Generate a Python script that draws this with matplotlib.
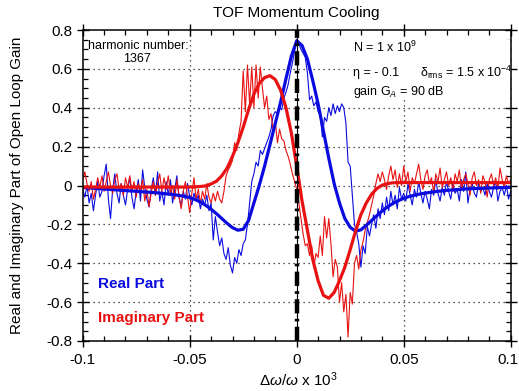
import numpy as np
import matplotlib
matplotlib.use("Agg")
import matplotlib.pyplot as plt
from matplotlib.ticker import MultipleLocator
from matplotlib.patches import Rectangle
from matplotlib.transforms import ScaledTranslation

plt.rcParams['font.family'] = ['Liberation Sans', 'DejaVu Sans']
plt.rcParams['mathtext.fontset'] = 'custom'
plt.rcParams['mathtext.rm'] = 'Liberation Sans'
plt.rcParams['mathtext.it'] = 'Liberation Sans:italic'
plt.rcParams['mathtext.bf'] = 'Liberation Sans:bold'

# ---- measured open loop gain (network analyser sweep) ----
x_meas = np.linspace(-0.1, 0.1, 201)

real_meas = [
    -0.02, -0.06, 0.00, -0.09, -0.04, -0.13, -0.05, 0.02, -0.06, -0.03,
    0.05, 0.11, -0.07, -0.17, -0.02, 0.06, -0.04, -0.09, 0.01, -0.05,
    -0.10, -0.02, 0.04, -0.06, -0.12, -0.03, 0.03, -0.08, 0.08, -0.01,
    -0.07, -0.11, -0.02, 0.04, -0.05, 0.07, -0.08, -0.03, -0.10, 0.02,
    -0.05, 0.03, -0.09, -0.02, 0.05, -0.06, -0.11, -0.03, -0.07, 0.01,
    -0.06, -0.10, -0.04, -0.08, -0.05, -0.12, -0.07, -0.10, -0.05, -0.13,
    -0.09, -0.28, -0.16, -0.24, -0.31, -0.27, -0.35, -0.38, -0.32, -0.41,
    -0.45, -0.37, -0.40, -0.33, -0.36, -0.30, -0.28, -0.20, -0.09, 0.02,
    0.06, 0.12, 0.10, 0.18, 0.16, 0.19, 0.22, 0.25, 0.29, 0.36,
    0.38, 0.37, 0.40, 0.39, 0.45, 0.48, 0.52, 0.58, 0.63, 0.69,
    0.75, 0.73, 0.70, 0.68, 0.66, 0.58, 0.44, 0.46, 0.41, 0.43,
    0.38, 0.36, 0.25, 0.35, 0.33, 0.40, 0.36, 0.42, 0.37, 0.41,
    0.38, 0.42, 0.40, 0.32, 0.12, 0.10, -0.05, -0.20, -0.24, -0.30,
    -0.42, -0.31, -0.35, -0.21, -0.26, -0.20, -0.15, -0.22, -0.12, -0.17,
    -0.09, -0.15, -0.06, -0.13, -0.03, -0.10, -0.05, -0.12, -0.01, -0.07,
    -0.04, -0.08, 0.01, -0.05, -0.10, -0.02, -0.06, 0.02, -0.04, -0.09,
    -0.03, -0.07, -0.12, -0.02, -0.05, 0.03, -0.04, -0.08, -0.01, -0.05,
    0.02, -0.03, -0.07, 0.01, -0.04, -0.02, -0.08, 0.03, -0.03, 0.07,
    -0.09, -0.02, 0.01, -0.04, -0.06, 0.02, -0.03, -0.01, -0.05, 0.01,
    -0.03, -0.06, -0.01, 0.02, -0.08, -0.03, -0.01, -0.05, 0.00, -0.07, -0.03,
]

imag_meas = [
    0.03, 0.07, 0.01, -0.03, 0.02, -0.07, -0.02, 0.04, -0.01, 0.05,
    -0.03, 0.02, 0.07, 0.00, -0.04, 0.03, 0.06, -0.02, 0.01, -0.05,
    0.04, -0.01, 0.05, -0.03, 0.02, -0.06, 0.01, -0.03, 0.03, -0.08,
    -0.02, -0.11, -0.04, 0.02, -0.05, 0.01, 0.06, -0.03, 0.04, -0.02,
    0.05, -0.04, 0.00, -0.07, 0.03, -0.05, -0.12, -0.03, 0.02, -0.06,
    -0.14, -0.04, 0.04, -0.07, -0.02, -0.09, -0.03, -0.07, 0.01, -0.06,
    -0.09, -0.04, -0.08, -0.03, -0.07, -0.09, -0.03, 0.05, 0.08, 0.10,
    0.13, 0.22, 0.18, 0.27, 0.33, 0.59, 0.38, 0.62, 0.42, 0.61,
    0.40, 0.62, 0.45, 0.61, 0.50, 0.40, 0.46, 0.34, 0.37, 0.28,
    0.33, 0.22, 0.29, 0.24, 0.23, 0.18, 0.15, 0.11, 0.06, 0.02,
    -0.02, -0.09, -0.17, -0.25, -0.31, -0.30, -0.36, -0.31, -0.42, -0.35,
    -0.37, -0.26, -0.36, -0.16, -0.27, -0.17, -0.30, -0.47, -0.38, -0.42,
    -0.60, -0.50, -0.65, -0.56, -0.78, -0.55, -0.61, -0.40, -0.36, -0.43,
    -0.33, -0.29, -0.23, -0.19, -0.15, -0.10, -0.05, 0.01, 0.06, 0.02,
    0.07, 0.03, -0.02, 0.05, 0.10, 0.03, 0.08, -0.01, 0.06, 0.00,
    0.10, 0.02, 0.07, -0.03, 0.04, 0.01, 0.06, 0.11, 0.03, -0.02,
    0.05, 0.08, 0.01, 0.04, -0.04, 0.06, 0.02, 0.09, -0.01, 0.03,
    0.07, 0.00, 0.04, -0.03, 0.06, 0.02, 0.08, -0.02, 0.03, 0.06,
    0.01, -0.05, 0.04, 0.07, 0.00, 0.03, -0.04, 0.05, 0.02, -0.06,
    0.03, 0.06, 0.00, 0.04, -0.02, 0.09, 0.03, -0.01, 0.05, 0.01, 0.03,
]

# ---- calculated open loop gain (model) ----
x_calc = np.linspace(-0.1, 0.1, 81)

real_calc = [
    -0.010, -0.012, -0.014, -0.016, -0.018, -0.020, -0.022, -0.024, -0.026, -0.028,
    -0.030, -0.032, -0.034, -0.036, -0.038, -0.041, -0.044, -0.047, -0.051, -0.056,
    -0.062, -0.072, -0.085, -0.102, -0.122, -0.145, -0.170, -0.195, -0.217, -0.230,
    -0.225, -0.180, -0.090, 0.000, 0.100, 0.210, 0.320, 0.430, 0.550, 0.665,
    0.745,
    0.720, 0.650, 0.540, 0.420, 0.280, 0.140, 0.010, -0.090, -0.170, -0.215,
    -0.235, -0.228, -0.205, -0.180, -0.155, -0.130, -0.110, -0.092, -0.078, -0.066,
    -0.057, -0.050, -0.044, -0.039, -0.035, -0.031, -0.028, -0.025, -0.023, -0.021,
    -0.019, -0.017, -0.016, -0.015, -0.014, -0.013, -0.012, -0.011, -0.010, -0.010,
]

imag_calc = [
    -0.008, -0.008, -0.008, -0.008, -0.008, -0.008, -0.008, -0.008, -0.008, -0.008,
    -0.008, -0.008, -0.008, -0.008, -0.008, -0.008, -0.008, -0.008, -0.008, -0.008,
    -0.008, -0.007, -0.005, -0.002, 0.008, 0.022, 0.050, 0.090, 0.150, 0.220,
    0.300, 0.390, 0.470, 0.525, 0.555, 0.565, 0.545, 0.490, 0.400, 0.270,
    0.100,
    -0.080, -0.230, -0.380, -0.490, -0.565, -0.580, -0.550, -0.490, -0.420, -0.330,
    -0.235, -0.150, -0.090, -0.045, -0.015, 0.002, 0.010, 0.014, 0.015, 0.015,
    0.015, 0.015, 0.015, 0.015, 0.015, 0.015, 0.015, 0.015, 0.015, 0.015,
    0.015, 0.015, 0.015, 0.015, 0.015, 0.015, 0.015, 0.015, 0.015, 0.015,
]

x_ticks = [-0.1, -0.05, 0, 0.05, 0.1]
x_tick_labels = ['-0.1', '-0.05', '0', '0.05', '0.1']
y_ticks = [-0.8, -0.6, -0.4, -0.2, 0, 0.2, 0.4, 0.6, 0.8]
y_tick_labels = ['-0.8', '-0.6', '-0.4', '-0.2', '0', '0.2', '0.4', '0.6', '0.8']

BLUE = '#0b0be0'
RED = '#e81212'

W, H = 519, 391
fig = plt.figure(figsize=(W / 100, H / 100), dpi=100)
ax = fig.add_axes([82.7 / W, 1 - 341 / H, (510.7 - 82.7) / W, (341 - 30) / H])

# grid (dotted, major only)
for xv in x_ticks[1:-1]:
    ax.axvline(xv, color='#222222', lw=0.9, ls=(0, (1, 3)), zorder=1)
for yv in y_ticks[1:-1]:
    ax.axhline(yv, color='#222222', lw=0.9, ls=(0, (1, 3)), zorder=1)

# white panel behind the parameter block
ax.add_patch(Rectangle((0.0245, 0.44), 0.0955, 0.31, facecolor='white',
                       edgecolor='none', zorder=2))

ax.plot(x_meas, real_meas, color=BLUE, lw=0.8, zorder=3)
ax.plot(x_meas, imag_meas, color=RED, lw=0.8, zorder=3)
ax.plot(x_calc, real_calc, color=BLUE, lw=2.3, zorder=4, solid_joinstyle='round')
ax.plot(x_calc, imag_calc, color=RED, lw=2.3, zorder=5, solid_joinstyle='round')

ax.axvline(0, color='black', lw=0.8, zorder=6)
ax.axvline(0, color='black', lw=3.2, ls=(0, (3.2, 1.2, 0.6, 1.2)), zorder=7)

ax.set_xlim(-0.1, 0.1)
ax.set_ylim(-0.8, 0.8)
ax.set_xticks(x_ticks)
ax.set_xticklabels(x_tick_labels)
ax.set_yticks(y_ticks)
ax.set_yticklabels(y_tick_labels)
ax.xaxis.set_minor_locator(MultipleLocator(0.01))
ax.yaxis.set_minor_locator(MultipleLocator(0.05))
ax.tick_params(which='major', direction='inout', length=9, width=1.0,
               top=True, right=True, labelsize=11, pad=3)
ax.tick_params(which='minor', direction='in', length=3.5, width=0.9,
               top=True, right=True)
ax.tick_params(axis='x', which='major', pad=4)
for sp in ax.spines.values():
    sp.set_linewidth(1.1)
    sp.set_zorder(8)

# keep the right-most x label inside the canvas
last_label = ax.xaxis.get_major_ticks()[-1].label1
last_label.set_transform(last_label.get_transform()
                         + ScaledTranslation(-3 / 100, 0, fig.dpi_scale_trans))

# annotations
ax.text(-0.0742, 0.717, 'harmonic number:', fontsize=9, ha='center', va='center')
ax.text(-0.0748, 0.651, '1367', fontsize=9, ha='center', va='center')
ax.text(0.0263, 0.71, r'N = 1 x 10$^{9}$', fontsize=9, ha='left', va='center', zorder=9)
ax.text(0.0263, 0.581, '\u03b7 = - 0.1', fontsize=9, ha='left', va='center', zorder=9)
ax.text(0.0576, 0.581, r'$\mathregular{\delta_{rms}}$ = 1.5 x 10$^{-4}$', fontsize=9,
        ha='left', va='center', zorder=9)
ax.text(0.0263, 0.481, r'gain G$_{A}$ = 90 dB', fontsize=9, ha='left', va='center',
        zorder=9)
ax.text(-0.0929, -0.508, 'Real Part', fontsize=11, fontweight='bold', color=BLUE,
        ha='left', va='center')
ax.text(-0.0929, -0.683, 'Imaginary Part', fontsize=11, fontweight='bold', color=RED,
        ha='left', va='center')

fig.text(296.7 / W, 1 - 12.5 / H, 'TOF Momentum Cooling', fontsize=11,
         ha='center', va='center')
fig.text(298 / W, 1 - 380 / H, r'$\Delta\omega/\omega$ x 10$^{3}$', fontsize=11,
         ha='center', va='center')
fig.text(17 / W, 1 - 185 / H, 'Real and Imaginary Part of Open Loop Gain',
         fontsize=11, rotation=90, ha='center', va='center')

fig.savefig('out.png', dpi=100)
